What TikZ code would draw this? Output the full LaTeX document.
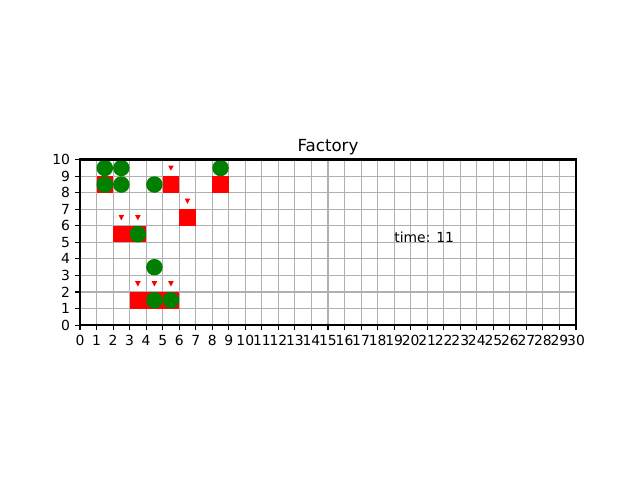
\documentclass[tikz,border=0pt]{standalone}
\usepackage{fontspec}
\setmainfont{DejaVu Sans}
\definecolor{mgreen}{RGB}{0,128,0}
\definecolor{mred}{RGB}{255,0,0}
\definecolor{gridc}{RGB}{176,176,176}
\tikzset{
  gridline/.style={gridc, line width=0.8pt},
  spine/.style={black, line width=2pt},
  tickmark/.style={black, line width=0.8pt},
  machine/.style={fill=mred},
  worker/.style={fill=mgreen},
  flag/.style={fill=mred},
  ticklabel/.style={inner sep=0pt, font=\fontsize{10}{12}\selectfont},
}
\begin{document}
\begin{tikzpicture}[x=0.72pt,y=0.72pt]
\useasboundingbox (0,0) rectangle (640,480);
\begin{scope}[shift={(80,154.93)}, x=11.904pt, y=11.904pt]
  % grid
  \foreach \i in {1,...,29} \draw[gridline] (\i,0) -- (\i,10);
  \foreach \j in {1,...,9} \draw[gridline] (0,\j) -- (30,\j);
  % red squares
  \foreach \a/\b in {1/8,5/8,8/8,6/6,2/5,3/5,3/1,4/1,5/1}
    \path[machine] (\a,\b) rectangle ++(1,1);
  % small red triangles
  \foreach \a/\b in {5.5/9.5,6.5/7.5,2.5/6.5,3.5/6.5,3.5/2.5,4.5/2.5,5.5/2.5}
    \path[flag] (\a,\b) ++(-2pt,1.8pt) -- ++(4pt,0pt) -- ++(-2pt,-3.8pt) -- cycle;
  % green circles
  \foreach \a/\b in {1/9,2/9,1/8,2/8,4/8,8/9,3/5,4/3,4/1,5/1}
    \path[worker] (\a+0.5,\b+0.5) circle (0.5);
  % spines
  \draw[spine] (0,0) rectangle (30,10);
  % x ticks
  \foreach \i in {0,...,30}{
    \draw[tickmark] (\i,0) -- ++(0,-3.5pt);
    \node[ticklabel, anchor=north] (xl\i) at ([yshift=-7pt]\i,0) {\i};
  }
  % y ticks
  \foreach \j in {0,...,10}{
    \draw[tickmark] (0,\j) -- ++(-3.5pt,0);
    \node[ticklabel, anchor=east] (yl\j) at ([xshift=-7pt]0,\j) {\j};
  }
  % title
  \node[inner sep=0pt, anchor=base, font=\fontsize{12}{14}\selectfont] (title) at ([yshift=6pt]15,10) {Factory};
  % time label
  \node[inner sep=0pt, anchor=base west, font=\fontsize{10}{12}\selectfont] (time) at (19,5) {time: 11};
\end{scope}
\end{tikzpicture}
\end{document}
